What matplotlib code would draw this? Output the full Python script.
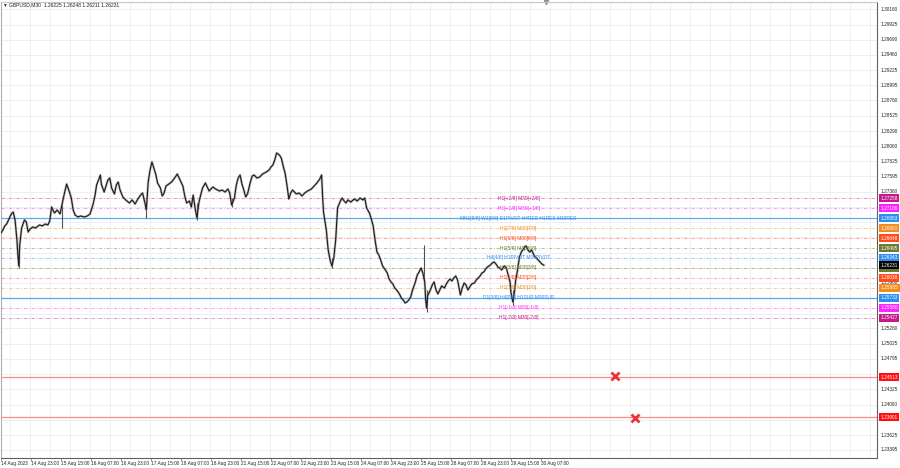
import matplotlib.pyplot as plt
import matplotlib.transforms as mtransforms
import numpy as np

plt.rcParams['font.family'] = ['Liberation Sans', 'DejaVu Sans']

# header
symbol = "GBPUSD,M30"
last_ohlc = ["1.26225", "1.26248", "1.26211", "1.26231"]
last_price = 1.26231

# M30 closes (bar index from the first bar, price)
bars = [0, 2, 4, 6, 9, 11, 13, 15, 17, 18,
        19, 20, 22, 25, 27, 29, 31, 34, 37, 41,
        44, 47, 50, 52, 54, 57, 60, 63, 65, 67,
        70, 73, 75, 77, 79, 82, 85, 89, 92, 95,
        98, 100, 102, 106, 107, 110, 112, 114, 116, 118,
        121, 123, 125, 127, 130, 133, 137, 140, 143, 146,
        149, 151, 154, 155, 157, 159, 161, 163, 165, 167,
        170, 172, 174, 176, 179, 182, 186, 188, 190, 192,
        194, 196, 198, 201, 203, 205, 207, 209, 211, 213,
        215, 218, 220, 222, 224, 226, 229, 233, 236, 239,
        242, 244, 246, 249, 251, 253, 255, 257, 259, 261,
        263, 266, 268, 270, 273, 276, 279, 283, 286, 288,
        290, 292, 294, 297, 299, 301, 303, 305, 307, 309,
        311, 315, 318, 321, 324, 327, 331, 334, 337, 340,
        342, 343, 344, 347, 349, 351, 353, 355, 357, 359,
        362, 364, 366, 368, 370, 373, 377, 380, 383, 386,
        388, 390, 393, 395, 397, 399, 401, 403, 405, 407,
        410, 412, 414, 416, 418, 420, 422, 425, 427, 429,
        431, 433, 435, 437, 439, 442, 444, 446, 448, 450,
        452, 453, 454, 455, 458, 460, 462, 464, 466, 468,
        470, 473, 475, 477, 479, 481, 483, 485, 487, 490,
        492, 494, 496, 498, 500, 502, 505, 507, 509, 511,
        513, 515, 517, 519, 522, 524, 526, 528, 530, 532,
        534, 537, 539, 541, 543, 544, 546, 548, 549, 551,
        553, 555, 558, 560, 562, 564, 566, 569, 571, 573,
        575, 577, 579]

closes = [1.26726, 1.26772, 1.26834, 1.26864, 1.26956, 1.27018, 1.27048, 1.26926, 1.26619, 1.26388,
          1.26220, 1.26542, 1.26803, 1.26926, 1.26895, 1.26741, 1.26788, 1.26818, 1.26803, 1.26849,
          1.26834, 1.26864, 1.26849, 1.26910, 1.27125, 1.27033, 1.27079, 1.27018, 1.27156, 1.27294,
          1.27478, 1.27355, 1.27263, 1.27079, 1.27002, 1.26972, 1.26987, 1.26972, 1.26987, 1.27018,
          1.27156, 1.27279, 1.27463, 1.27616, 1.27478, 1.27355, 1.27447, 1.27540, 1.27570, 1.27417,
          1.27325, 1.27463, 1.27509, 1.27386, 1.27279, 1.27233, 1.27187, 1.27233, 1.27171, 1.27248,
          1.27309, 1.27340, 1.27156, 1.27079, 1.27509, 1.27693, 1.27816, 1.27724, 1.27632, 1.27494,
          1.27417, 1.27294, 1.27340, 1.27447, 1.27478, 1.27509, 1.27586, 1.27632, 1.27570, 1.27509,
          1.27447, 1.27294, 1.27187, 1.27217, 1.27125, 1.27309, 1.27110, 1.26956, 1.27187, 1.27309,
          1.27417, 1.27494, 1.27432, 1.27371, 1.27401, 1.27432, 1.27401, 1.27371, 1.27386, 1.27355,
          1.27401, 1.27340, 1.27156, 1.27263, 1.27463, 1.27570, 1.27616, 1.27478, 1.27386, 1.27279,
          1.27325, 1.27509, 1.27601, 1.27616, 1.27570, 1.27586, 1.27632, 1.27662, 1.27693, 1.27739,
          1.27770, 1.27847, 1.27954, 1.27923, 1.27877, 1.27754, 1.27647, 1.27463, 1.27248, 1.27340,
          1.27386, 1.27325, 1.27340, 1.27294, 1.27340, 1.27371, 1.27401, 1.27447, 1.27494, 1.27555,
          1.27616, 1.27294, 1.27048, 1.26772, 1.26465, 1.26312, 1.26220, 1.26342, 1.26619, 1.27110,
          1.27217, 1.27263, 1.27217, 1.27187, 1.27233, 1.27202, 1.27248, 1.27217, 1.27263, 1.27233,
          1.27263, 1.27110, 1.27033, 1.26941, 1.26834, 1.26619, 1.26434, 1.26388, 1.26312, 1.26220,
          1.26158, 1.26112, 1.26020, 1.25974, 1.25943, 1.25882, 1.25851, 1.25790, 1.25728, 1.25698,
          1.25652, 1.25667, 1.25698, 1.25744, 1.25851, 1.25974, 1.26081, 1.26128, 1.26189, 1.26112,
          1.25974, 1.25698, 1.25575, 1.25759, 1.25851, 1.25928, 1.25974, 1.25851, 1.25790, 1.25851,
          1.25913, 1.25882, 1.25943, 1.25989, 1.26020, 1.25989, 1.26035, 1.26066, 1.26005, 1.25775,
          1.25882, 1.25959, 1.25928, 1.25851, 1.25897, 1.25943, 1.25959, 1.26005, 1.26035, 1.26066,
          1.26112, 1.26128, 1.26174, 1.26204, 1.26235, 1.26266, 1.26281, 1.26250, 1.26204, 1.26189,
          1.26158, 1.26220, 1.26189, 1.26081, 1.25974, 1.25805, 1.25667, 1.25851, 1.26005, 1.26158,
          1.26358, 1.26434, 1.26496, 1.26527, 1.26465, 1.26434, 1.26465, 1.26373, 1.26342, 1.26312,
          1.26281, 1.26250, 1.26231]

# long wicks
wick_bars = [19, 65, 155, 209, 246, 353, 451, 454, 546, 558]
wick_hi = [1.26388, 1.27156, 1.27079, 1.27187, 1.27263, 1.26342, 1.26542, 1.25852, 1.25852, 1.26542]
wick_lo = [1.26189, 1.26803, 1.26957, 1.26926, 1.27125, 1.26189, 1.26005, 1.25513, 1.25621, 1.26465]

time_labels = ["14 Aug 2023", "14 Aug 23:00", "15 Aug 15:00", "16 Aug 07:00", "16 Aug 23:00",
               "17 Aug 15:00", "18 Aug 07:00", "18 Aug 23:00", "21 Aug 15:00", "22 Aug 07:00",
               "22 Aug 23:00", "23 Aug 15:00", "24 Aug 07:00", "24 Aug 23:00", "25 Aug 15:00",
               "28 Aug 07:00", "28 Aug 23:00", "29 Aug 15:00", "30 Aug 07:00"]
bars_per_label = 32

price_ticks = [1.30160, 1.29925, 1.29690, 1.29460, 1.29225, 1.28995, 1.28760, 1.28525,
               1.28290, 1.28060, 1.27825, 1.27595, 1.27360, 1.27125, 1.26895, 1.26660,
               1.26425, 1.26195, 1.25960, 1.25725, 1.25490, 1.25260, 1.25025, 1.24795,
               1.24560, 1.24325, 1.24090, 1.23855, 1.23625, 1.23395]

# Murrey math levels
mm_levels = [1.27258, 1.27106, 1.26953, 1.26801, 1.26648, 1.26495, 1.26343,
             1.26190, 1.26038, 1.25885, 1.25733, 1.25580, 1.25427]
mm_names = ["H1[+2/8] M30[+2/8]", "H1[+1/8] M30[+1/8]",
            "MN1[8/8] W1[8/8] D1PIVOT H4RES H1RES M30RES",
            "H1[7/8] M30[7/8]", "H1[6/8] M30[6/8]", "H1[5/8] M30[5/8]",
            "H4[4/8] H1PIVOT M30PIVOT",
            "H1[3/8] M30[3/8]", "H1[2/8] M30[2/8]", "H1[1/8] M30[1/8]",
            "D1[3/8] H4[0/8] H1SUP M30SUP",
            "H1[-1/8] M30[-1/8]", "H1[-2/8] M30[-2/8]"]
mm_colors = ["#c7178a", "#ff22ff", "#2b8ef0", "#f28c1c", "#ff4a1c", "#6b7a35", "#2b8ef0",
             "#6b7a35", "#ff4a1c", "#f28c1c", "#2b8ef0", "#ff22ff", "#c7178a"]
mm_solid = [False, False, True, False, False, False, False,
            False, False, False, True, False, False]

# target levels with crosses
target_levels = [1.24513, 1.23901]
target_bars = [655, 676]
target_prices = [1.24531, 1.23886]

fig = plt.figure(figsize=(9, 4.68), dpi=100)
ax = fig.add_axes([1 / 900, 10 / 468, 876 / 900, 456 / 468])
ax.set_xlim(0, 934.4)
ax.set_ylim(1.23272, 1.30272)

# grid
for p in price_ticks:
    ax.axhline(p, color='#ececec', lw=0.6, zorder=0)
for gx in np.arange(9.6, 934, 21.33):
    ax.axvline(gx, color='#ececec', lw=0.6, zorder=0)

# levels
for lvl, name, col, solid in zip(mm_levels, mm_names, mm_colors, mm_solid):
    if solid:
        ax.axhline(lvl, color=col, lw=0.9, alpha=0.75, zorder=1)
    else:
        ax.axhline(lvl, color=col, lw=0.6, alpha=0.55, ls=(0, (4, 2, 1, 2)), zorder=1)
    ax.text(552, lvl, name, ha='center', va='center', fontsize=3.5, color=col, zorder=4)

for lvl in target_levels:
    ax.axhline(lvl, color='#ff8a8a', lw=0.9, zorder=1)

# price
ax.vlines(wick_bars, wick_lo, wick_hi, color='#505050', lw=0.8, zorder=2)
ax.plot(bars, closes, color='#8c8c8c', lw=1.8, alpha=0.5, zorder=2)
ax.plot(bars, closes, color='#1e1e1e', lw=0.85, zorder=3)

ax.plot(target_bars, target_prices, 'x', color='#e8323c', ms=6, mew=2, zorder=5)

# axes look
ax.set_xticks([i * bars_per_label for i in range(len(time_labels))])
ax.set_xticklabels([])
ax.set_yticks([])
ax.tick_params(axis='x', length=2, width=0.5, color='#707070')
for side, col in [('left', '#b0b0b0'), ('top', '#c8c8c8'), ('right', '#606060'), ('bottom', '#606060')]:
    ax.spines[side].set_color(col)
    ax.spines[side].set_linewidth(0.8)

xt = mtransforms.blended_transform_factory(ax.transData, ax.transAxes)
for i, lab in enumerate(time_labels):
    ax.text(i * bars_per_label, -0.011, lab, transform=xt, ha='left', va='center',
            fontsize=3.4, color='#202020', clip_on=False)

# price scale: boxed values hide the plain ticks under them
boxed = mm_levels + target_levels + [last_price]
yt = mtransforms.blended_transform_factory(ax.transAxes, ax.transData)
for p in price_ticks:
    if min(abs(p - b) for b in boxed) < 0.0007:
        continue
    ax.text(1.004, p, f"{p:.5f}", transform=yt, ha='left', va='center',
            fontsize=3.4, color='#202020', clip_on=False)

def price_box(p, col):
    ax.text(1.004, p, f"{p:.5f}", transform=yt, ha='left', va='center', fontsize=3.4,
            color='white', clip_on=False, zorder=6,
            bbox=dict(boxstyle='square,pad=0.3', fc=col, ec='none'))

for lvl, col in zip(mm_levels, mm_colors):
    price_box(lvl, col)
for lvl in target_levels:
    price_box(lvl, '#ff1010')
price_box(last_price, '#000000')

# chart shift marker
ax.plot([581], [1.0], marker='v', color='#909090', ms=3, transform=xt, clip_on=False)

fig.text(2 / 900, 1 - 5 / 468, "\u25bc", fontsize=3.5, color='#303030', va='center')
fig.text(9 / 900, 1 - 5 / 468, symbol + "  " + " ".join(last_ohlc), fontsize=3.6,
         color='#202020', va='center')

fig.savefig('out.png', dpi=100, facecolor='white')
